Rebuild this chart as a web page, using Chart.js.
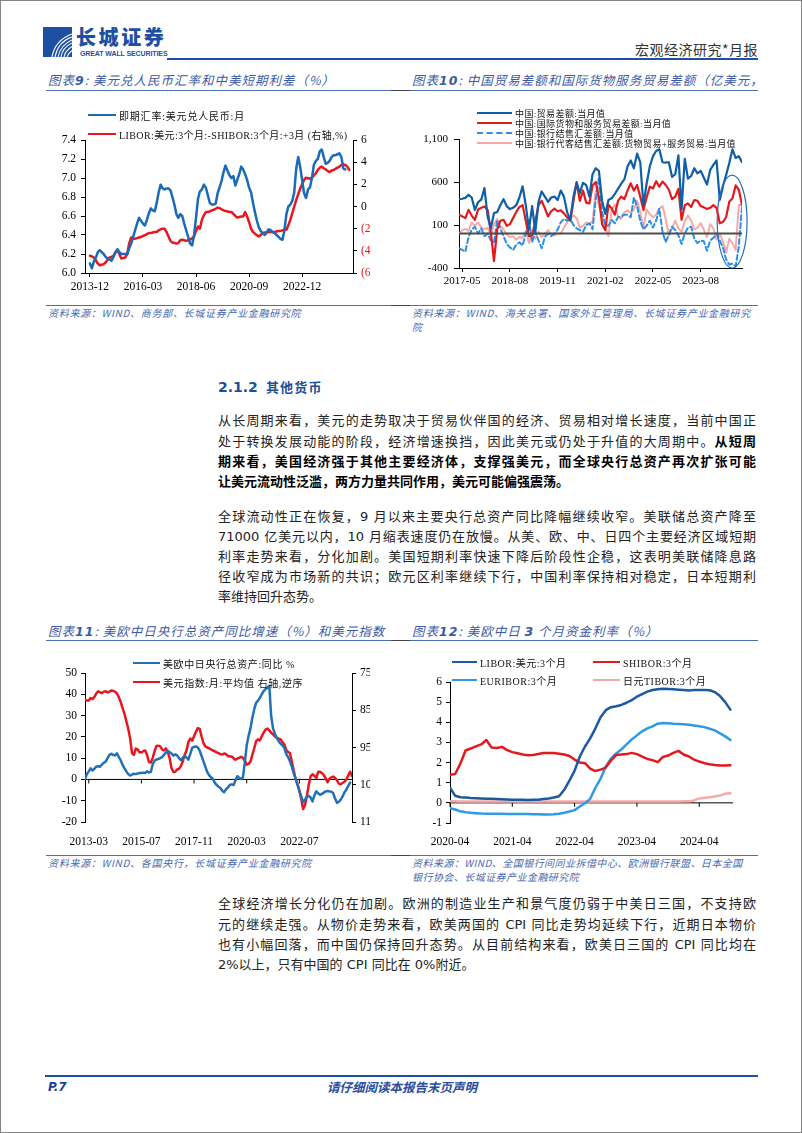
<!DOCTYPE html>
<html lang="zh-CN">
<head>
<meta charset="utf-8">
<title>宏观经济研究*月报 P.7</title>
<script src="https://cdn.jsdelivr.net/npm/chart.js@4.4.1/dist/chart.umd.min.js"></script>
<style>
html, body { margin: 0; padding: 0; background: #fff; }
#page { position: relative; width: 802px; height: 1133px; overflow: hidden; font-family: "Noto Sans CJK SC", sans-serif; }
#frame { position: absolute; left: 0; top: 0; width: 802px; height: 1133px; box-sizing: border-box; border: 1px solid #858585; pointer-events: none; }
.abs { position: absolute; }
.rule { position: absolute; height: 0; border-top: 1.5px solid #4f6fb4; }
.rule.dark { border-top-color: #444; }
.title { position: absolute; font-size: 12.5px; letter-spacing: 1px; font-style: italic; color: #3b5aa6; white-space: nowrap; overflow: hidden; line-height: 18px; height: 18px; }
.title b { font-family: "DejaVu Sans", sans-serif; font-weight: bold; }
.src { position: absolute; font-size: 10px; letter-spacing: 0.7px; font-style: italic; color: #4868b2; line-height: 14px; white-space: nowrap; }
.box { position: absolute; overflow: hidden; }
.para { position: absolute; left: 218px; width: 538px; font-family: "DejaVu Sans", "Noto Sans CJK SC", sans-serif; font-size: 13px; color: #222; }
.para div { height: 20.2px; line-height: 20.2px; text-align: justify; text-align-last: justify; }
.para div.last { text-align-last: left; }
.para b { color: #000; }
.lg { position: absolute; display: flex; align-items: center; height: 12px; white-space: nowrap; font-family: "Liberation Serif", "Noto Sans CJK SC", serif; color: #111; }
.lg i { display: block; height: 0; margin-right: 3px; }
</style>
</head>
<body>
<div id="page">

  <!-- header -->
  <svg class="abs" style="left:43px;top:27px" width="29" height="30" viewBox="0 0 29 30">
    <rect width="29" height="30" fill="#1d4fa3"/>
    <g fill="none" stroke="#fff" stroke-width="1.1">
      <path d="M9 30 C 11 19, 18 11, 29 7"/>
      <path d="M12 30 C 14 20, 20 13, 29 10"/>
      <path d="M15 30 C 17 21, 22 16, 29 13"/>
      <path d="M18 30 C 19 23, 23 19, 29 16"/>
      <path d="M21 30 C 22 25, 25 22, 29 19.5"/>
      <path d="M24 30 C 25 27, 27 25, 29 23.5"/>
    </g>
  </svg>
  <div class="abs" style="left:76px;top:25px;font-size:20px;font-weight:900;letter-spacing:2.6px;color:#1d4fa3;line-height:24px;">长城证券</div>
  <div class="abs" style="left:80px;top:50px;font-family:'Liberation Sans',sans-serif;font-size:7px;font-weight:bold;color:#1d4fa3;line-height:8px;letter-spacing:-0.1px;">GREAT WALL SECURITIES</div>
  <div class="rule" style="left:167px;top:58px;width:591px;border-top:2px solid #1d4fa3;"></div>
  <div class="abs" style="right:44px;top:40px;font-size:14px;color:#333;line-height:18px;letter-spacing:0.5px;">宏观经济研究*月报</div>

  <!-- top chart titles -->
  <div class="title" style="left:48px;top:71px;width:340px;">图表<b>9</b>: 美元兑人民币汇率和中美短期利差（%）</div>
  <div class="title" style="left:412px;top:71px;width:346px;">图表<b>10</b>: 中国贸易差额和国际货物服务贸易差额（亿美元，月）</div>
  <div class="rule" style="left:46px;top:90px;width:712px;"></div>
  <div class="rule dark" style="left:391px;top:90px;width:19px;"></div>

  <div class="box" style="left:40px;top:95px;width:330px;height:200px;"><canvas id="c9" width="330" height="200"></canvas></div>
  <div class="box" style="left:405px;top:95px;width:353px;height:200px;"><canvas id="c10" width="353" height="200"></canvas></div>

  <div class="lg" style="left:88px;top:109px;font-size:10px;letter-spacing:0.8px;"><i style="width:28px;border-top:2.5px solid #1b6ab8"></i>即期汇率:美元兑人民币:月</div>
  <div class="lg" style="left:88px;top:128px;font-size:10px;letter-spacing:0.4px;"><i style="width:28px;border-top:2.5px solid #e8161e"></i>LIBOR:美元:3个月:-SHIBOR:3个月:+3月 (右轴,%)</div>

  <div class="lg" style="left:477px;top:107px;font-size:9px;letter-spacing:0.4px;"><i style="width:35px;border-top:2.2px solid #0e5ea8"></i>中国:贸易差额:当月值</div>
  <div class="lg" style="left:477px;top:117px;font-size:9px;letter-spacing:0.4px;"><i style="width:35px;border-top:2.2px solid #e31a1c"></i>中国:国际货物和服务贸易差额:当月值</div>
  <div class="lg" style="left:477px;top:127px;font-size:9px;letter-spacing:0.4px;"><i style="width:35px;border-top:2.2px dashed #2b8fe3"></i>中国:银行结售汇差额:当月值</div>
  <div class="lg" style="left:477px;top:137px;font-size:9px;letter-spacing:0.4px;"><i style="width:35px;border-top:2.2px solid #f7a9a8"></i>中国:银行代客结售汇差额:货物贸易+服务贸易:当月值</div>

  <div class="rule" style="left:46px;top:305px;width:712px;"></div>
  <div class="rule dark" style="left:391px;top:305px;width:19px;"></div>
  <div class="src" style="left:48px;top:306px;">资料来源：WIND、商务部、长城证券产业金融研究院</div>
  <div class="src" style="left:412px;top:306px;">资料来源：WIND、海关总署、国家外汇管理局、长城证券产业金融研究<br>院</div>

  <!-- section -->
  <div class="abs" style="left:218px;top:376px;line-height:19px;color:#1f4e9a;font-weight:bold;">
    <span style="font-family:'DejaVu Sans',sans-serif;font-size:14px;">2.1.2</span><span style="font-size:13px;letter-spacing:1.2px;margin-left:8px;">其他货币</span>
  </div>

  <div class="para" style="top:411.4px;">
    <div>从长周期来看，美元的走势取决于贸易伙伴国的经济、贸易相对增长速度，当前中国正</div>
    <div>处于转换发展动能的阶段，经济增速换挡，因此美元或仍处于升值的大周期中。<b>从短周</b></div>
    <div><b>期来看，美国经济强于其他主要经济体，支撑强美元，而全球央行总资产再次扩张可能</b></div>
    <div class="last"><b>让美元流动性泛滥，两方力量共同作用，美元可能偏强震荡。</b></div>
  </div>

  <div class="para" style="top:506.7px;">
    <div>全球流动性正在恢复，9 月以来主要央行总资产同比降幅继续收窄。美联储总资产降至</div>
    <div>71000 亿美元以内，10 月缩表速度仍在放慢。从美、欧、中、日四个主要经济区域短期</div>
    <div>利率走势来看，分化加剧。美国短期利率快速下降后阶段性企稳，这表明美联储降息路</div>
    <div>径收窄成为市场新的共识；欧元区利率继续下行，中国利率保持相对稳定，日本短期利</div>
    <div class="last">率维持回升态势。</div>
  </div>

  <!-- bottom chart titles -->
  <div class="title" style="left:48px;top:622px;width:345px;">图表<b>11</b>: 美欧中日央行总资产同比增速（%）和美元指数</div>
  <div class="title" style="left:412px;top:622px;width:346px;">图表<b>12</b>: 美欧中日 <b>3</b> 个月资金利率（%）</div>
  <div class="rule" style="left:46px;top:640px;width:712px;"></div>
  <div class="rule dark" style="left:391px;top:640px;width:19px;"></div>

  <div class="box" style="left:40px;top:645px;width:330px;height:200px;"><canvas id="c11" width="340" height="200"></canvas></div>
  <div class="box" style="left:405px;top:645px;width:353px;height:200px;"><canvas id="c12" width="353" height="200"></canvas></div>

  <div class="lg" style="left:133px;top:657px;font-size:10px;letter-spacing:0.6px;"><i style="width:27px;border-top:2.5px solid #2270b6"></i>美欧中日央行总资产:同比 %</div>
  <div class="lg" style="left:133px;top:676px;font-size:10px;letter-spacing:0.6px;"><i style="width:27px;border-top:2.5px solid #e8161e"></i>美元指数:月:平均值 右轴,逆序</div>

  <div class="lg" style="left:452px;top:656px;font-size:10px;letter-spacing:0.5px;"><i style="width:25px;border-top:2.5px solid #1a5b9f"></i>LIBOR:美元:3个月</div>
  <div class="lg" style="left:452px;top:674px;font-size:10px;letter-spacing:0.5px;"><i style="width:25px;border-top:2.5px solid #2e9ae6"></i>EURIBOR:3个月</div>
  <div class="lg" style="left:593px;top:656px;font-size:10px;letter-spacing:0.5px;"><i style="width:27px;border-top:2.5px solid #e31a1c"></i>SHIBOR:3个月</div>
  <div class="lg" style="left:593px;top:674px;font-size:10px;letter-spacing:0.5px;"><i style="width:27px;border-top:2.5px solid #f6a9a9"></i>日元TIBOR:3个月</div>

  <div class="rule" style="left:46px;top:855px;width:712px;"></div>
  <div class="rule dark" style="left:391px;top:855px;width:19px;"></div>
  <div class="src" style="left:48px;top:856px;">资料来源：WIND、各国央行，长城证券产业金融研究院</div>
  <div class="src" style="left:412px;top:856px;letter-spacing:0.45px;">资料来源：WIND、全国银行间同业拆借中心、欧洲银行联盟、日本全国<br>银行协会、长城证券产业金融研究院</div>

  <div class="para" style="top:894.4px;">
    <div>全球经济增长分化仍在加剧。欧洲的制造业生产和景气度仍弱于中美日三国，不支持欧</div>
    <div>元的继续走强。从物价走势来看，欧美两国的 CPI 同比走势均延续下行，近期日本物价</div>
    <div>也有小幅回落，而中国仍保持回升态势。从目前结构来看，欧美日三国的 CPI 同比均在</div>
    <div class="last">2%以上，只有中国的 CPI 同比在 0%附近。</div>
  </div>

  <!-- footer -->
  <div class="rule" style="left:45px;top:1075px;width:713px;border-top:2px solid #1d4fa3;"></div>
  <div class="abs" style="left:48px;top:1079px;font-family:'DejaVu Sans',sans-serif;font-size:12px;font-weight:bold;font-style:italic;color:#1d3f8f;line-height:16px;">P.7</div>
  <div class="abs" style="left:250px;width:304px;text-align:center;top:1079px;font-size:12.5px;font-weight:bold;font-style:italic;color:#2a4c9e;line-height:16px;">请仔细阅读本报告末页声明</div>

  <div id="frame"></div>
</div>

<script>
// ---- data ----
// chart 9: monthly from 2013-12
const c9Start = [2013, 12];
const cnySpot = [
  6.10, 6.05, 6.12, 6.16, 6.22, 6.24, 6.22, 6.20, 6.17, 6.15,
  6.14, 6.13, 6.17, 6.22, 6.25, 6.22, 6.20, 6.20, 6.20, 6.20,
  6.26, 6.31, 6.38, 6.45, 6.52, 6.58, 6.55, 6.52, 6.50, 6.56,
  6.63, 6.68, 6.66, 6.65, 6.74, 6.85, 6.93, 6.89, 6.88, 6.89,
  6.89, 6.87, 6.80, 6.72, 6.62, 6.58, 6.62, 6.60, 6.52, 6.45,
  6.38, 6.31, 6.29, 6.40, 6.58, 6.78, 6.86, 6.88, 6.93, 6.90,
  6.82, 6.74, 6.72, 6.72, 6.73, 6.84, 6.90, 6.97, 7.06, 7.13,
  7.08, 7.03, 7.00, 7.02, 6.92, 6.98, 7.04, 7.12, 7.09, 7.04,
  6.98, 6.90, 6.85, 6.74, 6.64, 6.55, 6.48, 6.44, 6.42, 6.40,
  6.43, 6.46, 6.45, 6.43, 6.42, 6.40, 6.38, 6.36, 6.35, 6.45,
  6.62, 6.70, 6.72, 6.76, 6.85, 7.10, 7.22, 7.12, 6.98, 6.84,
  6.79, 6.88, 6.90, 7.00, 7.14, 7.18, 7.20, 7.28, 7.30, 7.22,
  7.15, 7.16, 7.18, 7.22, 7.24, 7.24, 7.25, 7.26, 7.22, 7.10,
  7.09
];
const rateSpread = [
  -4.45, -4.5, -4.6, -4.85, -5.15, -5.3, -5.25, -5.2, -5.05, -4.8,
  -4.6, -4.55, -4.45, -4.15, -3.9, -4.3, -4.7, -4.65, -4.6, -4.3,
  -3.3, -2.8, -2.9, -2.9, -2.85, -2.8, -2.75, -2.65, -2.6, -2.5,
  -2.4, -2.4, -2.35, -2.3, -2.3, -2.15, -2.05, -2.0, -2.0, -2.3,
  -2.7, -3.1, -3.25, -3.3, -3.35, -3.3, -3.05, -3.0, -3.05, -3.1,
  -3.05, -3.0, -2.85, -2.7, -2.2, -1.8, -2.0, -1.2, -0.8, -0.5,
  -0.5, -0.45, -0.35, -0.3, -0.2, -0.1, -0.15, -0.25, -0.35, -0.4,
  -0.45, -0.5, -0.5, -0.65, -0.85, -1.0, -0.95, -0.9, -0.9, -0.5,
  -0.9, -1.4, -2.0, -2.3, -2.45, -2.6, -2.7, -2.55, -2.4, -2.35,
  -2.35, -2.3, -2.3, -2.3, -2.3, -2.25, -2.2, -2.2, -2.15, -2.1,
  -2.1, -1.7, -1.2, -0.6, 0.0, 0.6, 1.1, 1.6, 2.0, 2.4,
  2.6, 2.55, 2.5, 2.6, 2.8, 3.0, 3.3, 3.5, 3.6, 3.45,
  3.35, 3.2, 3.1, 3.25, 3.3, 3.4, 3.5, 3.6, 3.75, 3.8,
  3.75, 3.6, 3.3
];
const c9Ticks = [0, 27, 54, 81, 108];

// chart 10: monthly from 2017-04, 亿美元
const c10Start = [2017, 4];
const tradeBalance = [
  400, 405, 415, 450, 420, 276, 365, 395, 530, 200,
  60, 240, 250, 330, 400, 320, 285, 300, 330, 420,
  550, 330, 45, 320, 20, 370, 490, 430, 370, 420,
  430, 390, 500, 430, 250, 160, 430, 590, 470, 590,
  565, 430, 690, 760, 730, 380, 230, 390, 410, 460,
  520, 580, 630, 780, 850, 760, 930, 830, 330, 580,
  780, 900, 960, 980, 830, 825, 830, 660, 690, 910,
  280, 870, 640, 670, 760, 700, 730, 650, 570, 740,
  800, 850, 390, 550, 680, 820, 980, 880, 900, 830
];
const goodsServices = [
  220, 200, 180, 275, 210, 160, 280, 300, 315, 275,
  20, -320, 45, 150, 160, 90, 110, 180, 250, 310,
  330, 150, -30, -20, 140, 330, 380, 295, 200, 260,
  290, 260, 270, 235, 190, 150, 380, 600, 380, 500,
  360, 350, 560, 600, 420, 110, 40, 335, 295, 220,
  380, 430, 400, 500, 585, 500, 565, 430, 275, 420,
  545, 525, 610, 545, 605, 565, 510, 400, 430, 520,
  160, 330, 350, 310, 390, 380, 320, 305, 285, 300,
  330, 300, 120, 135, 190, 370, 410, 560, 510, 335
];
const bankFx = [
  -170, -190, -210, -40, 45, 80, 0, 60, -30, 0,
  -80, -100, 150, 60, -30, -120, -160, -190, -130, -100,
  -140, 0, 160, -100, 20, -80, -170, -40, 0, -30,
  0, 45, 130, 170, 150, 170, 100, 60, 40, 20,
  100, 120, 50, 400, 650, 250, 100, 90, 160, 120,
  190, 200, 220, 220, 190, 420, 320, 150, 50, 90,
  150, 70, 150, 290, 20, -100, -10, 80, 40, -20,
  -120, 0, 70, 80, -60, -110, -80, -90, -200, -80,
  -50, 0, -80, -160, -300, -360, -350, -380, -150, 310
];
const clientFx = [
  0, 40, 55, 30, 130, 90, 130, 70, 50, 70,
  -30, 110, 170, 90, 50, -10, -40, -30, -70, -40,
  -50, 30, -110, 0, -60, 20, -40, 0, 40, -10,
  -20, 0, 0, 70, 130, 180, 210, 180, 70, 90,
  130, 110, 140, 500, 330, 190, 80, -30, 280, 340,
  200, 170, 250, 270, 240, 280, 380, 250, 60, 280,
  230, 190, 220, 290, 320, 170, -20, 60, 150, 60,
  20, 140, 210, 150, 50, 70, 120, 45, -40, 110,
  60, -70, 0, -90, -220, -60, -110, -190, 330, 340
];
const c10Ticks = [1, 16, 31, 46, 61, 76];

// chart 11: monthly from 2013-01
const c11Start = [2013, 1];
const cbAssetsYoy = [
  0.2, 2.5, 3.8, 5.2, 4.2, 5.0, 6.0, 6.2, 6.0, 7.0,
  7.8, 8.4, 10.0, 11.5, 12.0, 11.5, 11.3, 12.3, 10.5, 9.0,
  6.8, 5.2, 3.8, 2.5, 1.8, 2.3, 2.7, 2.5, 2.8, 3.0,
  3.0, 3.2, 3.0, 3.8, 3.3, 3.5, 7.0, 8.8, 9.4, 9.6,
  10.0, 10.5, 11.5, 12.6, 13.4, 12.8, 12.2, 11.2, 11.8, 11.3,
  10.0, 9.0, 10.2, 11.0, 10.3, 9.3, 12.0, 14.8, 15.3, 15.5,
  15.0, 13.5, 11.0, 8.5, 6.0, 3.5, 2.0, 1.0, 0.2, -1.5,
  -2.6, -3.4, -4.0, -5.3, -6.0, -4.6, -3.8, -2.6, -2.3, -2.6,
  -0.5, 1.5, 0.8, 0.2, 1.0, 8.0, 16.0, 20.5, 24.0, 29.0,
  33.0, 36.0, 37.0, 38.3, 40.0, 41.5, 42.5, 43.0, 44.0, 30.0,
  24.0, 21.5, 19.5, 18.0, 16.8, 16.0, 14.8, 12.0, 10.5, 8.5,
  6.0, 3.0, 0.5, -2.5, -5.5, -8.0, -10.8, -9.5, -8.0, -7.8,
  -8.5, -10.3, -7.5, -5.6, -6.5, -7.2, -6.8, -6.2, -5.6, -5.4,
  -5.6, -5.8, -6.4, -9.0, -11.0, -10.5, -9.5, -8.0, -6.0, -4.8,
  -3.0, -1.5
];
const dollarIndex = [
  82.2, 82.4, 82.4, 81.7, 82.0, 81.4, 80.5, 79.9, 80.2, 80.4,
  80.0, 79.9, 80.2, 80.0, 79.7, 79.8, 80.0, 80.5, 81.5, 82.8,
  84.4, 86.0, 88.0, 90.0, 92.5, 96.5, 97.0, 95.3, 95.5, 96.3,
  96.3, 96.0, 95.8, 97.0, 98.9, 99.0, 97.8, 96.0, 94.6, 94.5,
  94.7, 95.5, 95.8, 95.2, 96.2, 97.8, 100.5, 101.6, 101.5, 100.9,
  100.7, 100.0, 98.7, 97.0, 95.8, 93.5, 92.6, 93.2, 92.0, 90.8,
  89.8, 90.0, 92.0, 93.8, 94.7, 95.0, 95.2, 95.5, 95.8, 96.0,
  96.3, 96.5, 96.8, 96.9, 96.6, 96.8, 97.3, 97.4, 97.4, 97.9,
  98.3, 98.0, 97.8, 97.5, 97.8, 98.5, 99.6, 99.4, 98.8, 97.0,
  95.2, 93.3, 92.8, 93.1, 92.0, 91.0, 90.2, 89.9, 90.4, 91.0,
  91.5, 92.0, 92.4, 92.6, 92.8, 93.5, 94.2, 95.6, 96.2, 96.5,
  98.8, 101.2, 103.5, 104.8, 106.5, 108.8, 111.5, 110.5, 108.0, 105.0,
  102.7, 102.2, 102.6, 103.2, 101.6, 101.5, 101.9, 102.4, 103.3, 104.3,
  103.4, 103.0, 102.8, 103.2, 103.8, 104.7, 104.9, 104.5, 104.2, 103.6,
  102.5, 101.5, 102.7
];
const c11Ticks = [2, 30, 58, 86, 114];

// chart 12: monthly from 2020-04, %
const c12Start = [2020, 4];
const liborUsd = [
  0.75, 0.35, 0.28, 0.26, 0.24, 0.23, 0.22, 0.21, 0.20, 0.19,
  0.18, 0.17, 0.16, 0.15, 0.15, 0.14, 0.15, 0.16, 0.19, 0.22,
  0.27, 0.33, 0.65, 1.10, 1.60, 2.30, 2.80, 3.20, 3.70, 4.25,
  4.60, 4.75, 4.80, 4.86, 4.97, 5.10, 5.27, 5.40, 5.52, 5.60,
  5.64, 5.66, 5.65, 5.64, 5.62, 5.60, 5.58, 5.60, 5.60, 5.60,
  5.59, 5.50, 5.30, 5.00, 4.63
];
const shibor = [
  1.40, 1.43, 1.95, 2.60, 2.70, 2.80, 2.90, 3.12, 2.75, 2.72,
  2.78, 2.62, 2.52, 2.46, 2.40, 2.36, 2.38, 2.43, 2.47, 2.48,
  2.48, 2.44, 2.40, 2.33, 2.15, 2.00, 1.97, 1.70, 1.58, 1.65,
  1.75, 2.10, 2.38, 2.40, 2.42, 2.48, 2.42, 2.30, 2.18, 2.12,
  2.02, 2.28, 2.35, 2.48, 2.58, 2.40, 2.30, 2.15, 2.05, 1.97,
  1.92, 1.88, 1.86, 1.86, 1.87
];
const euribor = [
  -0.26, -0.33, -0.42, -0.47, -0.49, -0.51, -0.53, -0.54, -0.54, -0.54,
  -0.54, -0.55, -0.55, -0.55, -0.55, -0.55, -0.56, -0.57, -0.58, -0.58,
  -0.57, -0.54, -0.49, -0.43, -0.36, -0.18, -0.02, 0.20, 0.75, 1.20,
  1.80, 2.20, 2.45, 2.65, 2.90, 3.15, 3.35, 3.55, 3.70, 3.80,
  3.93, 3.96, 3.95, 3.93, 3.92, 3.90, 3.88, 3.84, 3.80, 3.76,
  3.68, 3.60, 3.45, 3.30, 3.12
];
const tiborJpy = [
  0.08, 0.08, 0.07, 0.07, 0.07, 0.07, 0.07, 0.07, 0.07, 0.07,
  0.07, 0.07, 0.07, 0.07, 0.07, 0.07, 0.07, 0.07, 0.07, 0.07,
  0.07, 0.07, 0.07, 0.07, 0.07, 0.07, 0.07, 0.07, 0.07, 0.07,
  0.07, 0.07, 0.07, 0.07, 0.07, 0.07, 0.07, 0.07, 0.07, 0.07,
  0.07, 0.07, 0.07, 0.07, 0.07, 0.08, 0.08, 0.12, 0.22, 0.25,
  0.28, 0.32, 0.36, 0.45, 0.48
];
const c12Ticks = [0, 12, 24, 36, 48];

// ---- helpers ----
function months(start, n) {
  const out = [];
  for (let i = 0; i < n; i++) {
    const t = start[0] * 12 + (start[1] - 1) + i;
    out.push(Math.floor(t / 12) + '-' + String(t % 12 + 1).padStart(2, '0'));
  }
  return out;
}
const pts = arr => arr.map((v, i) => ({ x: i, y: v }));

const c9Labels = months(c9Start, 140);
const c10Labels = months(c10Start, 95);
const c11Labels = months(c11Start, 150);
const c12Labels = months(c12Start, 60);

const serif = "'Liberation Serif','Noto Sans CJK SC',serif";

// horizontal line at value 0, with small marks under the x labels
const zeroLine = {
  id: 'zeroLine',
  beforeDatasetsDraw(chart, args, o) { if (!o.front) drawZero(chart, o); },
  afterDatasetsDraw(chart, args, o) { if (o.front) drawZero(chart, o); }
};
function drawZero(chart, o) {
  const { ctx, chartArea: a, scales } = chart;
  const y = scales.y.getPixelForValue(0);
  ctx.save();
  ctx.strokeStyle = o.color || '#000';
  ctx.lineWidth = o.width || 1;
  ctx.beginPath();
  ctx.moveTo(a.left, y);
  ctx.lineTo(a.right, y);
  (o.marks || []).forEach(v => {
    const x = scales.x.getPixelForValue(v);
    ctx.moveTo(x, y);
    ctx.lineTo(x, y + 4);
  });
  ctx.stroke();
  ctx.restore();
}

// the blue ring round the latest months in chart 10
const ringMark = {
  id: 'ringMark',
  afterDatasetsDraw(chart, args, o) {
    const { ctx, scales } = chart;
    const x0 = scales.x.getPixelForValue(o.from), x1 = scales.x.getPixelForValue(o.to);
    const y0 = scales.y.getPixelForValue(o.high), y1 = scales.y.getPixelForValue(o.low);
    ctx.save();
    ctx.strokeStyle = o.color;
    ctx.lineWidth = 1.2;
    ctx.beginPath();
    ctx.ellipse((x0 + x1) / 2, (y0 + y1) / 2, (x1 - x0) / 2, (y1 - y0) / 2, 0, 0, Math.PI * 2);
    ctx.stroke();
    ctx.restore();
  }
};

function xAxis(min, max, ticks, labels, height, opts) {
  return Object.assign({
    type: 'linear', min: min, max: max,
    afterBuildTicks: s => { s.ticks = ticks.map(v => ({ value: v })); },
    afterFit: s => { s.height = height; },
    ticks: { callback: v => labels[v], font: { family: serif, size: 11.5 }, color: '#000', maxRotation: 0, autoSkip: false, padding: 3 },
    grid: { drawOnChartArea: false, tickLength: 4, tickColor: '#000' },
    border: { color: '#000' }
  }, opts || {});
}

const base = {
  responsive: false,
  animation: false,
  devicePixelRatio: 1,
  elements: { point: { radius: 0 }, line: { tension: 0, borderCapStyle: 'round', borderJoinStyle: 'round' } },
  plugins: { legend: { display: false }, tooltip: { enabled: false } }
};

// ---- chart 9 ----
new Chart(document.getElementById('c9'), {
  type: 'line',
  data: {
    datasets: [
      { label: '即期汇率:美元兑人民币:月', data: pts(cnySpot), yAxisID: 'y', borderColor: '#1b6ab8', borderWidth: 2.5 },
      { label: 'LIBOR:美元:3个月:-SHIBOR:3个月:+3月 (右轴,%)', data: pts(rateSpread), yAxisID: 'y1', borderColor: '#e8161e', borderWidth: 2.5 }
    ]
  },
  options: Object.assign({}, base, {
    layout: { padding: { top: 45, right: 0, bottom: 0, left: 0 } },
    scales: {
      x: xAxis(-2.5, 133.9, c9Ticks, c9Labels, 22),
      y: {
        min: 6.0, max: 7.4,
        afterFit: s => { s.width = 45; },
        ticks: { stepSize: 0.2, callback: v => v.toFixed(1), font: { family: serif, size: 11.5 }, color: '#000', padding: 5 },
        grid: { drawOnChartArea: false, tickLength: 4, tickColor: '#000' },
        border: { color: '#000' }
      },
      y1: {
        position: 'right', min: -6, max: 6,
        afterFit: s => { s.width = 17; },
        ticks: {
          stepSize: 2,
          callback: v => v < 0 ? '(' + (-v) + ')' : String(v),
          color: c => (c.tick && c.tick.value < 0) ? '#e8161e' : '#000',
          font: { family: serif, size: 11.5 }, padding: 4
        },
        grid: { drawOnChartArea: false, tickLength: 4, tickColor: '#000' },
        border: { color: '#000' }
      }
    }
  })
});

// ---- chart 10 ----
new Chart(document.getElementById('c10'), {
  type: 'line',
  data: {
    datasets: [
      { label: '中国:贸易差额:当月值', data: pts(tradeBalance), borderColor: '#0e5ea8', borderWidth: 2.2 },
      { label: '中国:国际货物和服务贸易差额:当月值', data: pts(goodsServices), borderColor: '#e31a1c', borderWidth: 2.2 },
      { label: '中国:银行结售汇差额:当月值', data: pts(bankFx), borderColor: '#2b8fe3', borderWidth: 2, borderDash: [5, 3] },
      { label: '中国:银行代客结售汇差额:货物贸易+服务贸易:当月值', data: pts(clientFx), borderColor: '#f7a9a8', borderWidth: 2 }
    ]
  },
  plugins: [zeroLine, ringMark],
  options: Object.assign({}, base, {
    layout: { padding: { top: 44, right: 16, bottom: 0, left: 0 } },
    plugins: Object.assign({}, base.plugins, {
      zeroLine: { color: '#4d4d4d', width: 2, front: true },
      ringMark: { from: 81.2, to: 90.6, low: -400, high: 680, color: '#2a6cc0' }
    }),
    scales: {
      x: xAxis(0, 89, c10Ticks, c10Labels, 27, {
        ticks: { callback: v => c10Labels[v], font: { family: serif, size: 11 }, color: '#000', maxRotation: 0, autoSkip: false, padding: 3 }
      }),
      y: {
        min: -400, max: 1100,
        afterFit: s => { s.width = 54; },
        ticks: { stepSize: 500, callback: v => v.toLocaleString('en-US'), font: { family: serif, size: 11 }, color: '#000', padding: 6 },
        grid: { drawOnChartArea: false, tickLength: 5, tickColor: '#000' },
        border: { color: '#000' }
      }
    }
  })
});

// ---- chart 11 ----
new Chart(document.getElementById('c11'), {
  type: 'line',
  data: {
    datasets: [
      { label: '美欧中日央行总资产:同比 %', data: pts(cbAssetsYoy), yAxisID: 'y', borderColor: '#2270b6', borderWidth: 2.5 },
      { label: '美元指数:月:平均值 右轴,逆序', data: pts(dollarIndex), yAxisID: 'y1', borderColor: '#e8161e', borderWidth: 2.5 }
    ]
  },
  plugins: [zeroLine],
  options: Object.assign({}, base, {
    layout: { padding: { top: 28, right: 10, bottom: 0, left: 0 } },
    plugins: Object.assign({}, base.plugins, {
      zeroLine: { color: '#000', width: 1, marks: c11Ticks }
    }),
    scales: {
      x: xAxis(0, 142, c11Ticks, c11Labels, 23, {
        grid: { display: false },
        border: { display: false },
        ticks: { callback: v => c11Labels[v], font: { family: serif, size: 11.5 }, color: '#000', maxRotation: 0, autoSkip: false, padding: 5 }
      }),
      y: {
        min: -20, max: 50,
        afterFit: s => { s.width = 45; },
        ticks: { stepSize: 10, font: { family: serif, size: 11.5 }, color: '#000', padding: 4 },
        grid: { drawOnChartArea: false, tickLength: 4, tickColor: '#000' },
        border: { color: '#000' }
      },
      y1: {
        position: 'right', min: 75, max: 115, reverse: true,
        afterFit: s => { s.width = 18; },
        ticks: { stepSize: 10, font: { family: serif, size: 11.5 }, color: '#000', padding: 4 },
        grid: { drawOnChartArea: false, tickLength: 4, tickColor: '#000' },
        border: { color: '#000' }
      }
    }
  })
});

// ---- chart 12 ----
new Chart(document.getElementById('c12'), {
  type: 'line',
  data: {
    datasets: [
      { label: 'LIBOR:美元:3个月', data: pts(liborUsd), borderColor: '#1a5b9f', borderWidth: 2.5 },
      { label: 'SHIBOR:3个月', data: pts(shibor), borderColor: '#e31a1c', borderWidth: 2.5 },
      { label: 'EURIBOR:3个月', data: pts(euribor), borderColor: '#2e9ae6', borderWidth: 2.5 },
      { label: '日元TIBOR:3个月', data: pts(tiborJpy), borderColor: '#f6a9a9', borderWidth: 2.5 }
    ]
  },
  plugins: [zeroLine],
  options: Object.assign({}, base, {
    layout: { padding: { top: 37, right: 25, bottom: 0, left: 0 } },
    plugins: Object.assign({}, base.plugins, {
      zeroLine: { color: '#000', width: 1, marks: c12Ticks }
    }),
    scales: {
      x: xAxis(0, 54.5, c12Ticks, c12Labels, 22, {
        grid: { display: false },
        border: { display: false },
        ticks: { callback: v => c12Labels[v], font: { family: serif, size: 11.5 }, color: '#000', maxRotation: 0, autoSkip: false, padding: 4 }
      }),
      y: {
        min: -1, max: 6,
        afterFit: s => { s.width = 45; },
        ticks: { stepSize: 1, font: { family: serif, size: 11.5 }, color: '#000', padding: 4 },
        grid: { drawOnChartArea: false, tickLength: 4, tickColor: '#000' },
        border: { color: '#000' }
      }
    }
  })
});
</script>
</body>
</html>
